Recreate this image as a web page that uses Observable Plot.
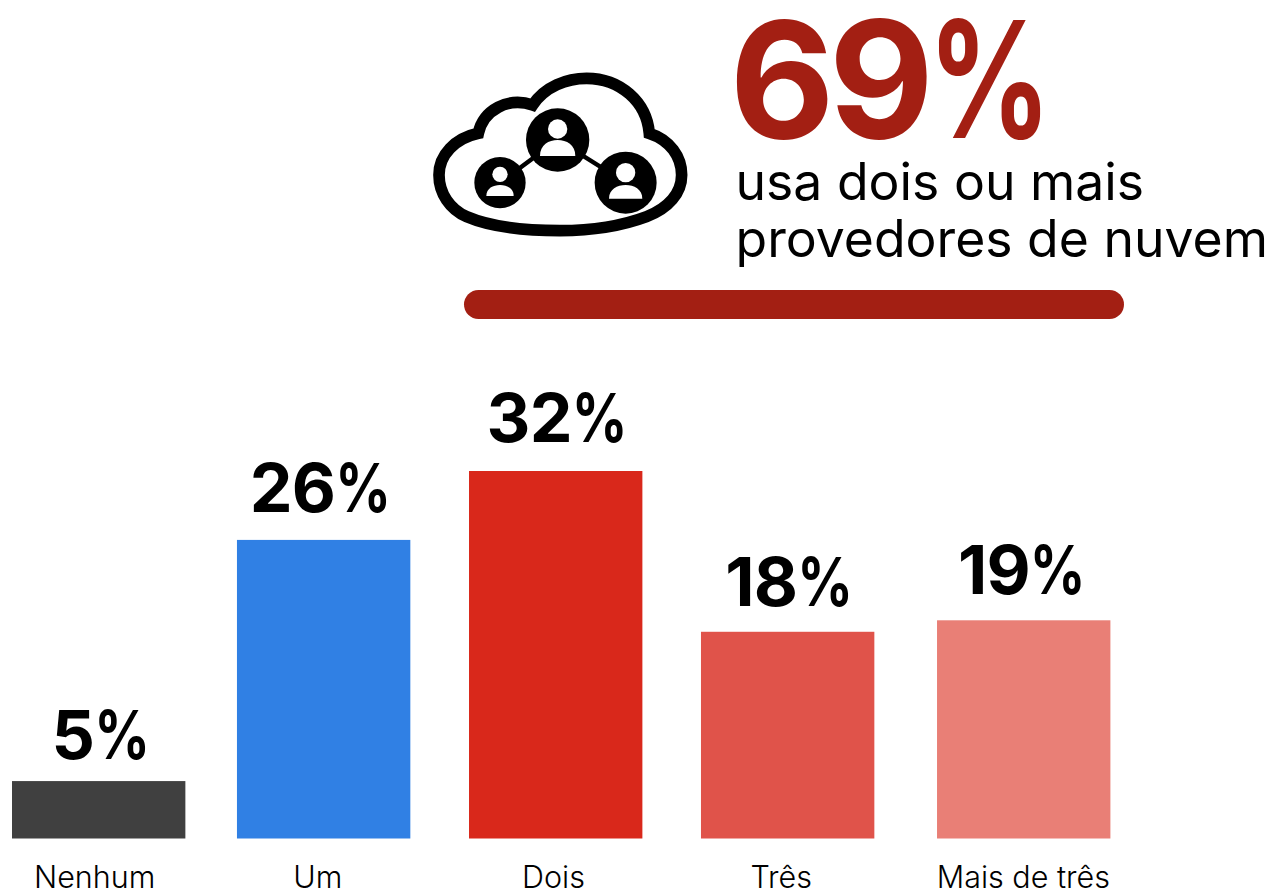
<!DOCTYPE html>
<html lang="pt">
<head>
<meta charset="utf-8">
<style>
html,body{margin:0;padding:0;background:#fff;overflow:hidden}
#chart svg{display:block}
.digits{letter-spacing:-0.037em}
.small .digits{letter-spacing:-0.012em}
</style>
<script src="https://cdn.jsdelivr.net/npm/d3@7"></script>
<script src="https://cdn.jsdelivr.net/npm/@observablehq/plot@0.6"></script>
</head>
<body>
<div id="chart"></div>
<script>
const categories = ["Nenhum", "Um", "Dois", "Três", "Mais de três"];
const shares = [5, 26, 32, 18, 19];
const barColors = ["#404040", "#3080E4", "#D9281B", "#E0534A", "#E97F76"];
const headlineValue = 69;
const headlineLines = ["usa dois ou mais", "provedores de nuvem"];

const font = "Inter";
const rows = categories.map((c, i) => ({category: c, share: shares[i], color: barColors[i]}));

// Hand-placed offsets of the original layout, per category
const barOffset = [0, -6.2, -5.3, -4.5, 0.4];
const valueOffset = [1.5, -10, -4.5, -3.5, -2];
const valueLift = [-23, -28, -30, -26, -27];
const labelOffset = [-4.5, -12.5, -8, -11.5, -0.5];

function cloudIcon() {
  const g = d3.create("svg:g").attr("transform", "translate(420,60) scale(0.3333)");
  g.append("path")
    .attr("d", "M175,220 C190,150 265,110 338,135 C375,80 440,55 500,55 C600,55 680,125 688,220 C750,240 785,290 785,345 C785,400 745,445 680,470 C600,500 500,512 420,512 C320,512 210,500 140,470 C90,448 57,400 57,345 C57,285 105,235 175,220 Z")
    .attr("fill", "none").attr("stroke", "#000").attr("stroke-width", 35).attr("stroke-linejoin", "miter");
  g.append("path").attr("d", "M240,368 L413,240 L617,368").attr("fill", "none").attr("stroke", "#000").attr("stroke-width", 13);
  [[413, 240, 95, 207, 29, 53, 288, 48], [240, 368, 77, 343, 23, 41, 408, 33], [617, 368, 93, 338, 29, 50, 416, 41]].forEach(([cx, cy, r, hy, hr, bw, by, bh]) => {
    g.append("circle").attr("cx", cx).attr("cy", cy).attr("r", r).attr("fill", "#000");
    g.append("circle").attr("cx", cx).attr("cy", hy).attr("r", hr).attr("fill", "#fff");
    g.append("path").attr("d", `M${cx - bw},${by} C${cx - bw},${by - bh * 0.7} ${cx - bw * 0.5},${by - bh} ${cx},${by - bh} C${cx + bw * 0.5},${by - bh} ${cx + bw},${by - bh * 0.7} ${cx + bw},${by} Z`).attr("fill", "#fff");
  });
  return g.node();
}

const header = Plot.plot({
  width: 1272, height: 340,
  margin: 0,
  style: {background: "#fff"},
  x: {domain: [0, headlineValue], range: [464, 1124], axis: null},
  y: {domain: ["bar"], range: [290, 319], axis: null, padding: 0},
  marks: [
    Plot.barX([headlineValue], {x: d => d, y: () => "bar", fill: "#A31F13", rx: 14.5}),
    Plot.text([headlineValue + "%"], {text: d => d, className: "value", frameAnchor: "top-left", textAnchor: "start", lineAnchor: "bottom", dx: 729, dy: 137, fontFamily: font, fontWeight: 700, fontSize: 162, fill: "#A31F13"}),
    ...headlineLines.map((line, i) => Plot.text([line], {text: d => d, frameAnchor: "top-left", textAnchor: "start", lineAnchor: "bottom", dx: 735, dy: 199 + i * 57, fontFamily: font, fontWeight: 400, fontSize: 51.7, fill: "#000"})),
    () => cloudIcon()
  ]
});

const chart = Plot.plot({
  width: 1272, height: 551,
  margin: 0,
  style: {background: "#fff"},
  x: {type: "band", domain: categories, range: [12, 1110], paddingInner: 0.25, paddingOuter: 0, round: false, axis: null},
  y: {domain: [0, 32], range: [498.5, 131], axis: null},
  marks: rows.flatMap((d, i) => [
    Plot.barY([d], {x: "category", y: "share", fill: "color", dx: barOffset[i]}),
    Plot.text([d], {x: "category", y: "share", text: r => r.share + "%", className: "value small", dx: valueOffset[i], dy: valueLift[i], lineAnchor: "bottom", fontFamily: font, fontWeight: 700, fontSize: 68, fill: "#000"}),
    Plot.text([d], {x: "category", y: () => 0, text: "category", dx: labelOffset[i], dy: 49, lineAnchor: "bottom", fontFamily: font, fontWeight: 300, fontSize: 30.5, fill: "#000"})
  ])
});

document.getElementById("chart").append(header, chart);

// The reference's percent sign is narrower than this Inter's; the string itself stays whole.
[header, chart].forEach(svg => svg.querySelectorAll(".value text").forEach(t => {
  const size = parseFloat(getComputedStyle(t).fontSize);
  const s = t.textContent;
  t.textContent = "";
  const a = document.createElementNS("http://www.w3.org/2000/svg", "tspan");
  a.setAttribute("class", "digits"); a.textContent = s.slice(0, -1);
  const b = document.createElementNS("http://www.w3.org/2000/svg", "tspan");
  b.textContent = "%";
  b.setAttribute("textLength", size * (size > 100 ? 0.76 : 0.82));
  b.setAttribute("lengthAdjust", "spacingAndGlyphs");
  t.append(a, b);
}));
</script>
</body>
</html>
